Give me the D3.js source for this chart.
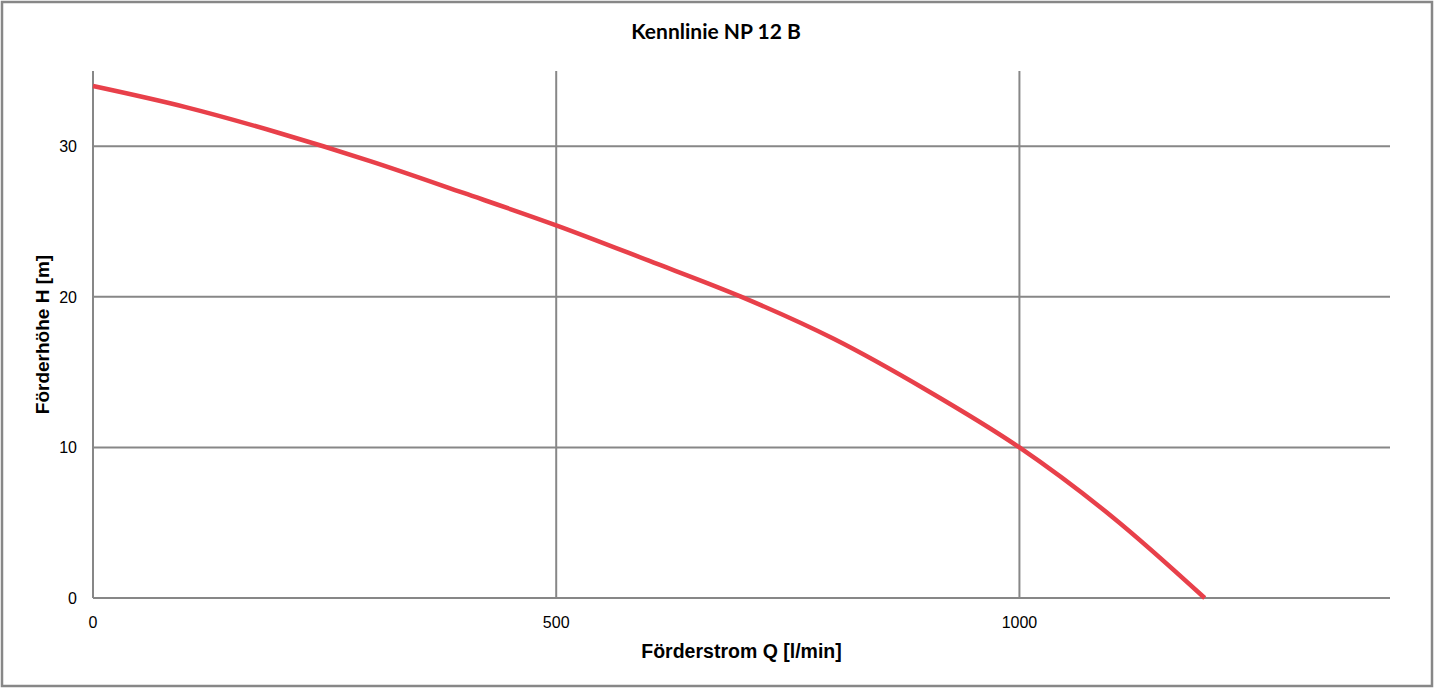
<!DOCTYPE html>
<html>
<head>
<meta charset="utf-8">
<script src="https://cdn.jsdelivr.net/npm/d3@7"></script>
<style>
  body { margin: 0; background: #fff; }
  svg { display: block; }
</style>
</head>
<body>
<svg width="1434" height="688"></svg>
<script>
// Kennlinie data
var flow = [0, 100, 200, 300, 400, 500, 600, 700, 800, 900, 1000, 1100, 1200];
var head = [34, 32.6, 30.9, 29.0, 26.9, 24.75, 22.4, 20.0, 17.2, 13.8, 10.0, 5.4, 0];
var xTicks = [0, 500, 1000];
var yTicks = [0, 10, 20, 30];
var title = "Kennlinie NP 12 B";
var xTitle = "Förderstrom Q [l/min]";
var yTitle = "Förderhöhe H [m]";

var svg = d3.select("svg"),
    W = +svg.attr("width"),
    H = +svg.attr("height");
// plot box (window.top is read-only, so no "top" here)
var plotL = 93, plotR = 1390, plotT = 71, plotB = 598;

var grey = "#878787";

// outer frame
svg.append("rect")
    .attr("x", 2).attr("y", 2)
    .attr("width", W - 4).attr("height", H - 4)
    .attr("fill", "#fff")
    .attr("stroke", grey)
    .attr("stroke-width", 2.5);

var xScale = d3.scaleLinear().domain([0, 1400]).range([plotL, plotR]);
var yScale = d3.scaleLinear().domain([0, 35]).range([plotB, plotT]);

var data = flow.map(function(q, i) { return {q: q, h: head[i]}; });

// grid lines
svg.append("g").selectAll("line").data(yTicks).enter().append("line")
    .attr("x1", plotL).attr("x2", plotR)
    .attr("y1", function(d) { return yScale(d); })
    .attr("y2", function(d) { return yScale(d); })
    .attr("stroke", grey).attr("stroke-width", 2);
svg.append("g").selectAll("line").data(xTicks).enter().append("line")
    .attr("x1", function(d) { return xScale(d); })
    .attr("x2", function(d) { return xScale(d); })
    .attr("y1", plotT).attr("y2", plotB)
    .attr("stroke", grey).attr("stroke-width", 2);

// tick labels
svg.append("g").selectAll("text").data(yTicks).enter().append("text")
    .attr("x", 77)
    .attr("y", function(d) { return yScale(d) + 6; })
    .attr("text-anchor", "end")
    .attr("font-family", "Liberation Sans, Arial, sans-serif")
    .attr("font-size", "16px")
    .attr("fill", "#000")
    .text(function(d) { return d; });
svg.append("g").selectAll("text").data(xTicks).enter().append("text")
    .attr("x", function(d) { return xScale(d); })
    .attr("y", 628)
    .attr("text-anchor", "middle")
    .attr("font-family", "Liberation Sans, Arial, sans-serif")
    .attr("font-size", "16px")
    .attr("fill", "#000")
    .text(function(d) { return d; });

// curve
var line = d3.line()
    .x(function(d) { return xScale(d.q); })
    .y(function(d) { return yScale(d.h); })
    .curve(d3.curveCatmullRom.alpha(0.5));
svg.append("path")
    .datum(data)
    .attr("d", line)
    .attr("fill", "none")
    .attr("stroke", "#e8404a")
    .attr("stroke-width", 4.5)
    .attr("stroke-linejoin", "round");

// titles
svg.append("text")
    .attr("x", 716).attr("y", 39)
    .attr("text-anchor", "middle")
    .attr("font-family", "Lato, Open Sans, sans-serif")
    .attr("font-weight", "bold")
    .attr("font-size", "21px")
    .text(title);
svg.append("text")
    .attr("x", (plotL + plotR) / 2).attr("y", 658)
    .attr("text-anchor", "middle")
    .attr("font-family", "Liberation Sans, Arial, sans-serif")
    .attr("font-weight", "bold")
    .attr("font-size", "19.5px")
    .text(xTitle);
svg.append("text")
    .attr("transform", "translate(49," + ((plotT + plotB) / 2) + ") rotate(-90)")
    .attr("text-anchor", "middle")
    .attr("font-family", "Liberation Sans, Arial, sans-serif")
    .attr("font-weight", "bold")
    .attr("font-size", "19px")
    .text(yTitle);
</script>
</body>
</html>
